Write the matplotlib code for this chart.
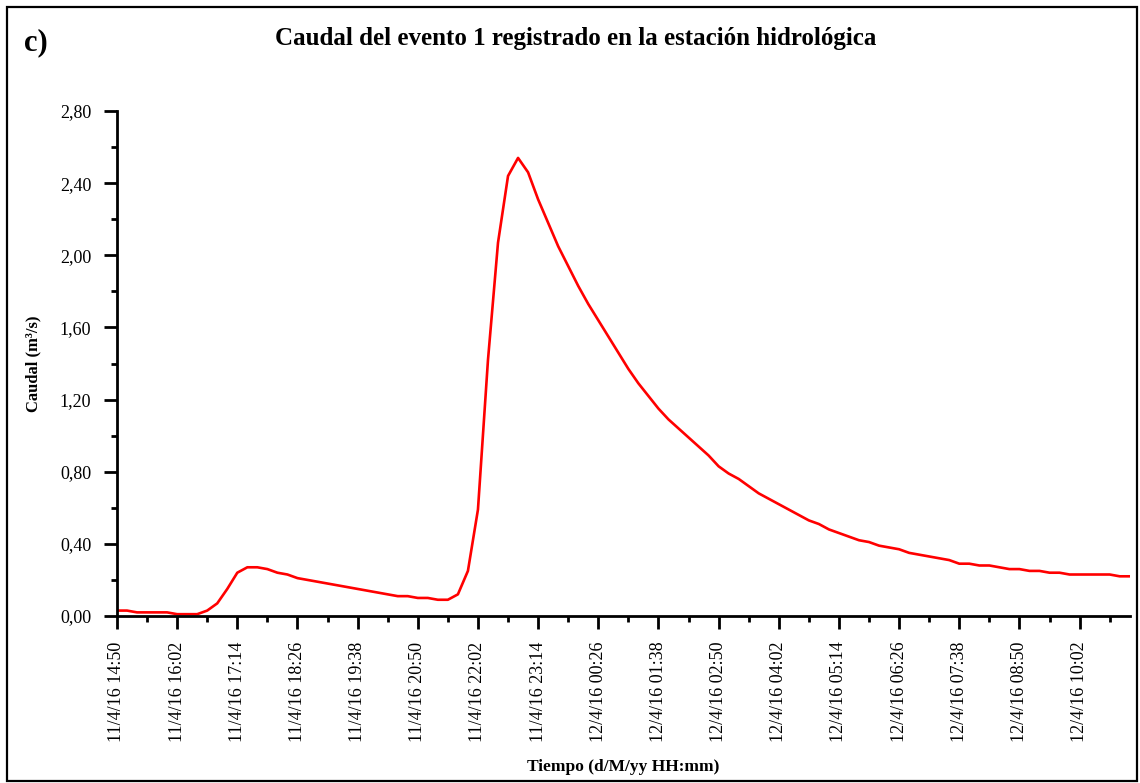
import numpy as np
import pandas as pd
import matplotlib
matplotlib.use("Agg")
import matplotlib.pyplot as plt
from matplotlib.patches import Rectangle

# caudal cada 12 minutos desde 11/4/16 14:50 (m3/s)
caudal = [0.03, 0.03, 0.02, 0.02, 0.02, 0.02, 0.01, 0.01, 0.01, 0.03,
          0.07, 0.15, 0.24, 0.27, 0.27, 0.26, 0.24, 0.23, 0.21, 0.20,
          0.19, 0.18, 0.17, 0.16, 0.15, 0.14, 0.13, 0.12, 0.11, 0.11,
          0.10, 0.10, 0.09, 0.09, 0.12, 0.25, 0.59, 1.42, 2.07, 2.44,
          2.54, 2.46, 2.31, 2.18, 2.05, 1.94, 1.83, 1.73, 1.64, 1.55,
          1.46, 1.37, 1.29, 1.22, 1.15, 1.09, 1.04, 0.99, 0.94, 0.89,
          0.83, 0.79, 0.76, 0.72, 0.68, 0.65, 0.62, 0.59, 0.56, 0.53,
          0.51, 0.48, 0.46, 0.44, 0.42, 0.41, 0.39, 0.38, 0.37, 0.35,
          0.34, 0.33, 0.32, 0.31, 0.29, 0.29, 0.28, 0.28, 0.27, 0.26,
          0.26, 0.25, 0.25, 0.24, 0.24, 0.23, 0.23, 0.23, 0.23, 0.23,
          0.22, 0.22]
inicio = pd.Timestamp("2016-04-11 14:50")
y_marcas = [0.0, 0.4, 0.8, 1.2, 1.6, 2.0, 2.4, 2.8]

tiempo = pd.date_range(inicio, periods=len(caudal), freq="12min")

plt.rcParams['font.family'] = ['Liberation Serif', 'DejaVu Serif']

fig = plt.figure(figsize=(11.4, 7.83), dpi=100)
ax = fig.add_axes([0.1026, 0.2133, 0.8884, 0.6449])

ax.plot(tiempo, caudal, color='#ff0000', lw=1.9)

ax.set_xlim(tiempo[0], tiempo[-1])
ax.set_ylim(0, 2.8)

major = pd.date_range(inicio, tiempo[-1], freq="72min")
minor = pd.date_range(inicio + pd.Timedelta("36min"), tiempo[-1], freq="72min")
ax.set_xticks(major)
ax.set_xticklabels([f"{t.day}/{t.month}/{t:%y %H:%M}" for t in major],
                   rotation=90, fontsize=13)
ax.set_xticks(minor, minor=True)

ax.set_yticks(y_marcas)
ax.set_yticklabels([f"{v:.2f}".replace('.', ',') for v in y_marcas], fontsize=13)
ax.set_yticks(np.arange(0.2, 2.8, 0.4), minor=True)

for s in ['top', 'right']:
    ax.spines[s].set_visible(False)
for s in ['left', 'bottom']:
    ax.spines[s].set_linewidth(2)

ax.tick_params(which='major', length=9.5, width=2, pad=9)
ax.tick_params(which='minor', length=4.5, width=2)

fig.text(0.029, 0.536, "Caudal (m³/s)", rotation=90, fontsize=12,
         fontweight='bold', ha='center', va='center')
fig.text(0.547, 0.021, "Tiempo (d/M/yy HH:mm)", fontsize=12.5,
         fontweight='bold', ha='center', va='center')
fig.text(0.505, 0.951, "Caudal del evento 1 registrado en la estación hidrológica",
         fontsize=18, fontweight='bold', ha='center', va='center')
fig.text(0.021, 0.946, "c)", fontsize=22, fontweight='bold', ha='left', va='center')

# marco de la figura
fig.patches.append(Rectangle((0.006, 0.003), 0.991, 0.988, transform=fig.transFigure,
                             fill=False, edgecolor='black', lw=1.6))

fig.savefig("out.png", dpi=100)
